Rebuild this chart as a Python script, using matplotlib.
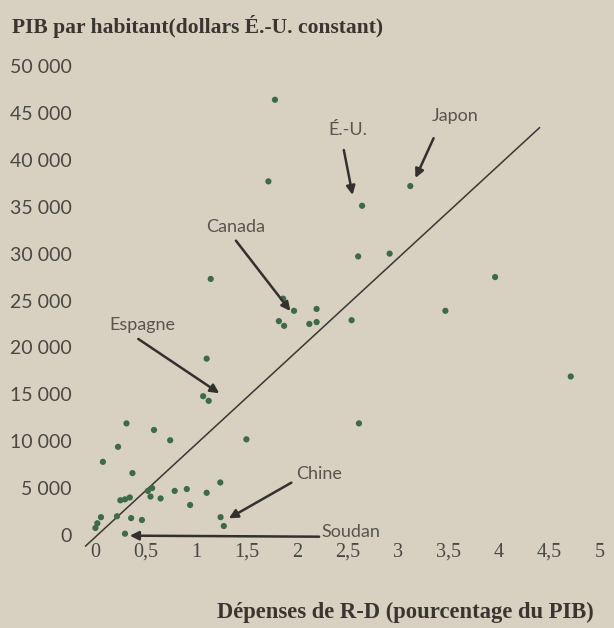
import matplotlib
matplotlib.use("Agg")
import matplotlib.pyplot as plt

# ---- data ----
rd_spending = [1.777, 1.712, 2.641, 3.119, 2.602, 2.914, 1.14, 3.96, 1.858, 1.966,
               2.19, 1.816, 1.868, 2.118, 2.19, 2.537, 3.467, 1.10, 4.71, 1.065,
               1.12, 0.305, 2.61, 0.578, 0.738, 1.494, 0.221, 0.071, 0.364, 1.235,
               0.559, 0.517, 0.543, 0.338, 0.29, 0.244, 0.643, 0.783, 0.903, 1.10,
               0.936, 0.052, 0.211, 0.351, 0.458, 0.016, -0.003, 1.238, 1.27, 0.29]
gdp_per_capita = [46400, 37700, 35100, 37200, 29700, 30000, 27300, 27500, 25200, 23900,
                  24100, 22800, 22300, 22500, 22700, 22900, 23900, 18800, 16900, 14800,
                  14300, 11900, 11900, 11200, 10100, 10200, 9400, 7800, 6600, 5600,
                  5000, 4700, 4100, 4000, 3800, 3700, 3900, 4700, 4900, 4500,
                  3200, 1900, 2000, 1800, 1600, 1250, 750, 1900, 960, 140]

trend_x = [-0.1, 4.4]
trend_y = [-1170, 43420]

x_ticks = [0, 0.5, 1, 1.5, 2, 2.5, 3, 3.5, 4, 4.5, 5]
x_tick_labels = ["0", "0,5", "1", "1,5", "2", "2,5", "3", "3,5", "4", "4,5", "5"]
y_ticks = [0, 5000, 10000, 15000, 20000, 25000, 30000, 35000, 40000, 45000, 50000]
y_tick_labels = ["0", "5 000", "10 000", "15 000", "20 000", "25 000", "30 000",
                 "35 000", "40 000", "45 000", "50 000"]

# label, text position, arrow start, arrow end
labels = ["Japon", "É.-U.", "Canada", "Espagne", "Chine", "Soudan"]
label_pos = [(3.56, 44650), (2.50, 43180), (1.384, 32840), (0.461, 22390), (2.21, 6500), (2.24, 320)]
label_ha = ["center", "center", "center", "center", "center", "left"]
arrow_start = [(3.35, 42300), (2.46, 41040), (1.39, 31380), (0.422, 20900), (1.94, 5580), (2.215, -180)]
arrow_end = [(3.17, 38060), (2.547, 36250), (1.93, 23880), (1.225, 15110), (1.32, 1780), (0.338, -70)]

# ---- figure ----
W, H = 614, 628
bg = "#d8d1c1"
fig = plt.figure(figsize=(W / 100, H / 100), dpi=100, facecolor=bg)

left_px, right_px, top_px, bottom_px = 80, 600, 60, 537
ax = fig.add_axes([left_px / W, 1 - bottom_px / H, (right_px - left_px) / W, (bottom_px - top_px) / H])
ax.set_facecolor(bg)

px_per_unit_x = 102.6
x0_px = 96
px_per_unit_y = 46.9 / 5000
y0_px = 535
ax.set_xlim((left_px - x0_px) / px_per_unit_x, (right_px - x0_px) / px_per_unit_x)
ax.set_ylim((y0_px - bottom_px) / px_per_unit_y, (y0_px - top_px) / px_per_unit_y)

for s in ax.spines.values():
    s.set_visible(False)

sans = "Lato"
serif = "Liberation Serif"
ax.set_xticks(x_ticks)
ax.set_xticklabels(x_tick_labels)
ax.set_yticks(y_ticks)
ax.set_yticklabels(y_tick_labels)
ax.tick_params(axis="both", length=0, labelcolor="#4a4744")
ax.tick_params(axis="x", pad=4, labelsize=14.5)
ax.tick_params(axis="y", pad=6, labelsize=14)
for lab in ax.get_xticklabels():
    lab.set_fontfamily(serif)
    lab.set_clip_on(False)
for lab in ax.get_yticklabels():
    lab.set_fontfamily(sans)

ax.plot(trend_x, trend_y, color="#3a3632", lw=1.1, clip_on=False, zorder=2)
ax.scatter(rd_spending, gdp_per_capita, s=20, color="#3d6a48", edgecolors="none",
           clip_on=False, zorder=3)

for lab, pos, ha, a0, a1 in zip(labels, label_pos, label_ha, arrow_start, arrow_end):
    ax.text(pos[0], pos[1], lab, ha=ha, va="center", fontsize=13, family=sans,
            color="#58554f", zorder=4)
    ax.annotate("", xy=a1, xytext=a0,
                arrowprops=dict(arrowstyle="-|>", color="#34302d", lw=1.8,
                                mutation_scale=13, shrinkA=0, shrinkB=0),
                annotation_clip=False, zorder=4)

fig.text(12 / W, 1 - 27 / H, "PIB par habitant(dollars É.-U. constant)",
         ha="left", va="center", fontsize=15.5, family=serif,
         fontweight="bold", color="#3a3530")
fig.text(405 / W, 1 - 612 / H, "Dépenses de R-D (pourcentage du PIB)",
         ha="center", va="center", fontsize=16.3, family=serif,
         fontweight="bold", color="#3a3530")

fig.savefig("out.png", dpi=100, facecolor=bg)
